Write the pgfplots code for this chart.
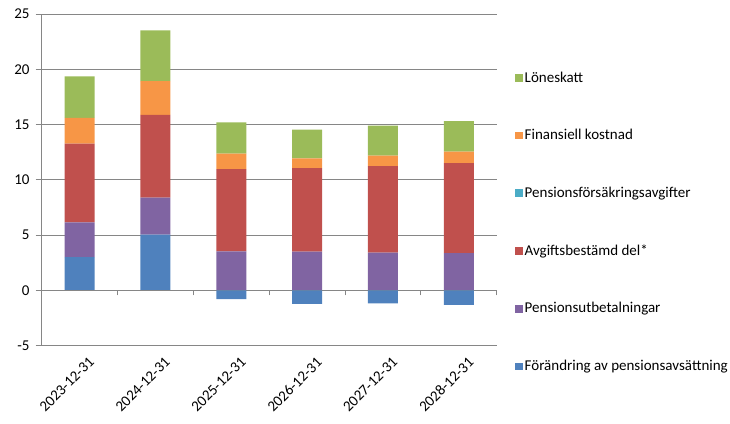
\documentclass[border=0pt]{standalone}
\usepackage{fontspec}
\setmainfont{Carlito}
\usepackage{pgfplots}
\pgfplotsset{compat=1.18}
\definecolor{cBlue}{HTML}{4F81BD}
\definecolor{cPurple}{HTML}{8064A2}
\definecolor{cTeal}{HTML}{4BACC6}
\definecolor{cRed}{HTML}{C0504D}
\definecolor{cOrange}{HTML}{F79646}
\definecolor{cGreen}{HTML}{9BBB59}
\definecolor{cGrid}{HTML}{868686}
\begin{document}
\fontsize{15}{18}\selectfont
\begin{tikzpicture}[x=1pt,y=1pt]
\path[use as bounding box] (0,0) rectangle (730,423);
\begin{axis}[
  at={(41.7pt,77.3pt)}, anchor=south west,
  scale only axis, width=455pt, height=331.7pt,
  ybar stacked, bar width=30pt,
  xmin=-0.5, xmax=5.5, ymin=-5, ymax=25,
  xtick={0,1,2,3,4,5},
  xticklabels={2023-12-31,2024-12-31,2025-12-31,2026-12-31,2027-12-31,2028-12-31},
  xticklabel style={rotate=45, anchor=north east, inner sep=0pt, yshift=-9pt, xshift=3pt},
  ytick={-5,0,5,10,15,20,25},
  yticklabel style={inner sep=0pt, xshift=-6pt},
  ymajorgrids, grid style={cGrid, line width=1pt},
  axis x line*=bottom, axis y line*=left,
  axis line style={cGrid, line width=1pt},
  x axis line style={draw=none},
  xtick style={draw=none},
  ytick style={cGrid, line width=1pt},
  tick align=outside, major tick length=6pt,
  ticklabel style={font=\fontsize{15}{18}\selectfont, text=black},
  /pgf/number format/assume math mode=true,
  legend image code/.code={\fill[#1] (0pt,-3.8pt) rectangle (7.6pt,3.8pt);},
  legend style={at={(1.04,0.833)}, anchor=north west, draw=none, fill=none,
    row sep=41pt, font=\fontsize{15}{18}\selectfont, inner sep=0pt,
    nodes={inner sep=2pt}},
  legend cell align=left,
  reverse legend,
]
\addplot[fill=cBlue, draw=none] coordinates {(0,3.0) (1,5.04) (2,0) (3,0) (4,0) (5,0)};
\addlegendentry{Förändring av pensionsavsättning}
\addplot[fill=cPurple, draw=none] coordinates {(0,3.15) (1,3.35) (2,3.53) (3,3.50) (4,3.41) (5,3.38)};
\addlegendentry{Pensionsutbetalningar}
\addplot[fill=cRed, draw=none] coordinates {(0,7.12) (1,7.48) (2,7.45) (3,7.57) (4,7.84) (5,8.14)};
\addlegendentry{Avgiftsbestämd del*}
\addplot[fill=cTeal, draw=none] coordinates {(0,0) (1,0) (2,0) (3,0) (4,0) (5,0)};
\addlegendentry{Pensionsförsäkringsavgifter}
\addplot[fill=cOrange, draw=none] coordinates {(0,2.33) (1,3.07) (2,1.39) (3,0.88) (4,0.94) (5,1.03)};
\addlegendentry{Finansiell kostnad}
\addplot[fill=cGreen, draw=none] coordinates {(0,3.77) (1,4.59) (2,2.83) (3,2.59) (4,2.71) (5,2.77)};
\addlegendentry{Löneskatt}
\end{axis}
\begin{axis}[
  at={(41.7pt,77.3pt)}, anchor=south west,
  scale only axis, width=455pt, height=331.7pt,
  ybar, bar width=30pt, bar shift=0pt,
  xmin=-0.5, xmax=5.5, ymin=-5, ymax=25,
  axis y line=none, axis x line=middle,
  axis line style={cGrid, line width=1pt, -},
  xtick={-0.5,0.5,1.5,2.5,3.5,4.5,5.5}, xticklabels={},
  ytick=\empty,
  tick align=outside, major tick length=5pt,
  xtick style={cGrid, line width=1pt},
]
\addplot[fill=cBlue, draw=none] coordinates {(2,-0.79) (3,-1.21) (4,-1.18) (5,-1.30)};
\end{axis}
\end{tikzpicture}
\end{document}
